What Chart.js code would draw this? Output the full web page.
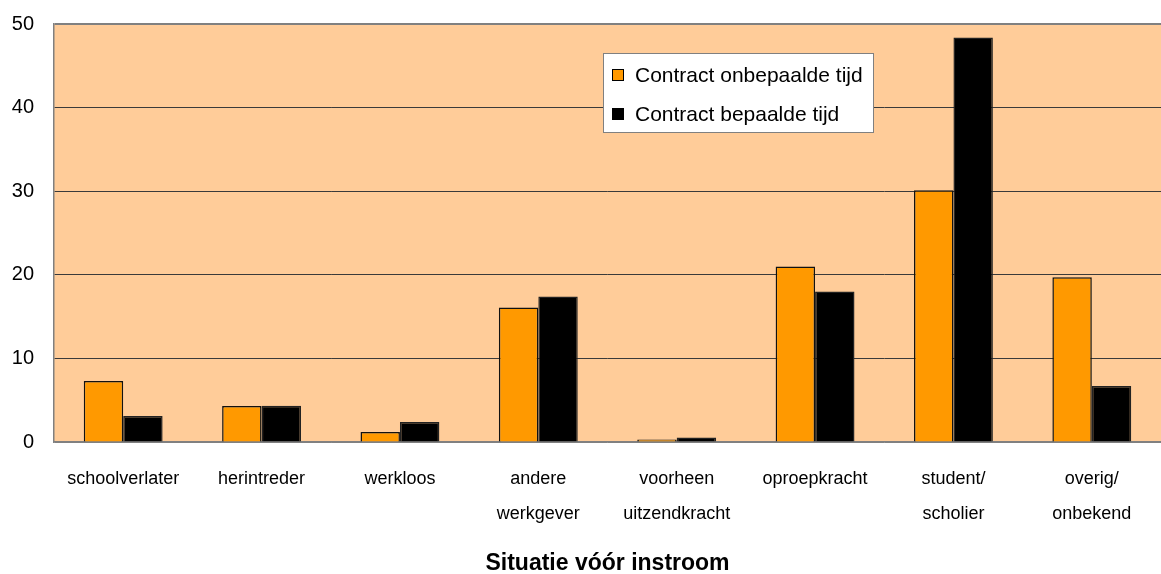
<!DOCTYPE html>
<html>
<head>
<meta charset="utf-8">
<script src="https://cdn.jsdelivr.net/npm/chart.js@4.4.0/dist/chart.umd.min.js"></script>
<style>
  html, body { margin: 0; padding: 0; background: #fff; }
  #wrap { width: 1161px; height: 574px; }
</style>
</head>
<body>
<div id="wrap"><canvas id="myChart" width="1161" height="574"></canvas></div>
<script>
const categorieen = [
  "schoolverlater",
  "herintreder",
  "werkloos",
  ["andere", "werkgever"],
  ["voorheen", "uitzendkracht"],
  "oproepkracht",
  ["student/", "scholier"],
  ["overig/", "onbekend"]
];
const onbepaald = [7.3, 4.3, 1.2, 16.1, 0.3, 21.0, 30.1, 19.7];
const bepaald = [3.1, 4.35, 2.4, 17.4, 0.55, 18.0, 48.4, 6.7];
const yTicks = [0, 10, 20, 30, 40, 50];

// achtergrond van het plotvlak
const plotAchtergrond = {
  id: "plotAchtergrond",
  beforeDraw(chart) {
    const { ctx, chartArea: a } = chart;
    ctx.save();
    ctx.fillStyle = "#FFCC99";
    ctx.fillRect(a.left, a.top, a.right - a.left, a.bottom - a.top);
    ctx.restore();
  }
};

// legenda binnen het plotvlak
const legendaBinnen = {
  id: "legendaBinnen",
  afterDraw(chart) {
    const ctx = chart.ctx;
    const x = 603, y = 53, w = 270, h = 79;
    ctx.save();
    ctx.fillStyle = "#fff";
    ctx.fillRect(x, y, w, h);
    ctx.strokeStyle = "#808080";
    ctx.lineWidth = 1;
    ctx.strokeRect(x + 0.5, y + 0.5, w, h);
    ctx.font = "21px 'Liberation Sans', Arial, sans-serif";
    ctx.textBaseline = "middle";
    chart.data.datasets.forEach((ds, i) => {
      const cy = 75 + i * 39;
      ctx.fillStyle = ds.backgroundColor;
      ctx.fillRect(612, cy - 6, 12, 12);
      ctx.strokeStyle = "#000";
      ctx.lineWidth = 1;
      ctx.strokeRect(612.5, cy - 5.5, 11, 11);
      ctx.fillStyle = "#000";
      ctx.fillText(ds.label, 635, cy + 1);
    });
    ctx.restore();
  }
};

const config = {
  type: "bar",
  data: {
    labels: categorieen,
    datasets: [
      {
        label: "Contract onbepaalde tijd",
        data: onbepaald,
        backgroundColor: "#FF9900",
        borderColor: "#111",
        borderWidth: 1.5
      },
      {
        label: "Contract bepaalde tijd",
        data: bepaald,
        backgroundColor: "#000000",
        borderColor: "#222",
        borderWidth: 1.5
      }
    ]
  },
  options: {
    responsive: false,
    animation: false,
    layout: { padding: { top: 24, right: 0, left: 0, bottom: 0 } },
    datasets: {
      bar: { categoryPercentage: 0.57, barPercentage: 1.0 }
    },
    plugins: {
      legend: { display: false },
      tooltip: { enabled: false }
    },
    scales: {
      x: {
        grid: { display: false, drawTicks: false },
        border: { color: "#808080", width: 1.5 },
        ticks: {
          autoSkip: false,
          maxRotation: 0,
          padding: 20,
          color: "#000",
          font: { family: "'Liberation Sans', Arial", size: 18, lineHeight: "35px" }
        },
        title: {
          display: true,
          text: "Situatie vóór instroom",
          color: "#000",
          padding: { top: 0, bottom: -1 },
          font: { family: "'Liberation Sans', Arial", size: 23, weight: "bold", lineHeight: 1 }
        },
        afterFit(scale) { scale.height = 574 - 442; }
      },
      y: {
        min: 0,
        max: 50,
        afterBuildTicks(scale) { scale.ticks = yTicks.map(v => ({ value: v })); },
        grid: {
          drawTicks: true,
          tickLength: 20,
          tickColor: "rgba(0,0,0,0)",
          color: (c) => (c.tick && (c.tick.value === 50 || c.tick.value === 0)) ? "#808080" : "#3a3a3a",
          lineWidth: (c) => (c.tick && c.tick.value === 50) ? 2 : 1
        },
        border: { color: "#808080", width: 1.5 },
        ticks: {
          padding: 0,
          color: "#000",
          font: { family: "'Liberation Sans', Arial", size: 20 }
        },
        afterFit(scale) { scale.width = 54; }
      }
    }
  },
  plugins: [plotAchtergrond, legendaBinnen]
};

const chartDOM = document.getElementById("myChart");
new Chart(chartDOM, config);
</script>
</body>
</html>
